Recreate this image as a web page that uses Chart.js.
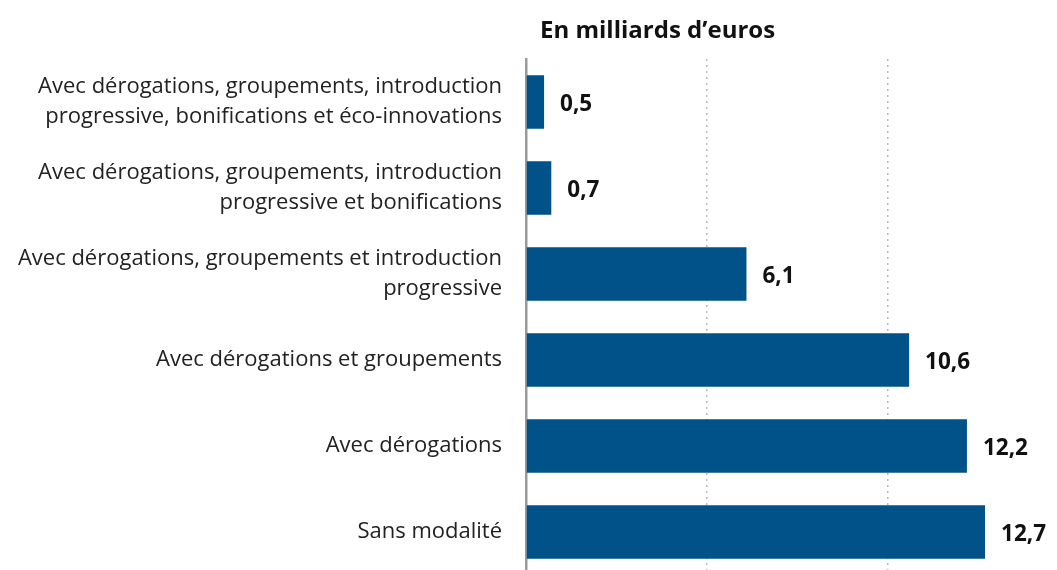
<!DOCTYPE html>
<html lang="fr">
<head>
<meta charset="utf-8">
<script src="https://cdn.jsdelivr.net/npm/chart.js@4"></script>
<style>
    html, body { margin: 0; padding: 0; background: #fff; overflow: hidden; }
    #wrap { position: relative; width: 1057px; height: 576px; }
</style>
</head>
<body>
<div id="wrap"><canvas id="chart"></canvas></div>
<script>
// Données
const titre = 'En milliards d\u2019euros';
const categories = [
    ['Avec dérogations, groupements, introduction', 'progressive, bonifications et éco-innovations'],
    ['Avec dérogations, groupements, introduction', 'progressive et bonifications'],
    ['Avec dérogations, groupements et introduction', 'progressive'],
    'Avec dérogations et groupements',
    'Avec dérogations',
    'Sans modalité'
];
const valeurs = [0.5, 0.7, 6.1, 10.6, 12.2, 12.7];
const gridValues = [5, 10];

const FONT = '"Open Sans", "Noto Sans", sans-serif';

// Étiquettes de valeur au bout des barres + titre
const valueLabels = {
    id: 'valueLabels',
    afterDatasetsDraw(chart) {
        const ctx = chart.ctx;
        const meta = chart.getDatasetMeta(0);
        ctx.save();
        ctx.fillStyle = '#111';
        ctx.font = 'bold 22.5px ' + FONT;
        ctx.textBaseline = 'middle';
        ctx.textAlign = 'left';
        meta.data.forEach(function (bar, i) {
            const txt = valeurs[i].toFixed(1).replace('.', ',');
            ctx.fillText(txt, bar.x + 16, bar.y + 3);
        });
        // titre
        ctx.font = 'bold 24px ' + FONT;
        ctx.textBaseline = 'alphabetic';
        ctx.fillText(titre, 540, 38);
        ctx.restore();
    }
};

const ctx = document.getElementById('chart').getContext('2d');
new Chart(ctx, {
    type: 'bar',
    data: {
        labels: categories,
        datasets: [{
            data: valeurs,
            backgroundColor: '#005288',
            barPercentage: 0.62,
            categoryPercentage: 1
        }]
    },
    options: {
        indexAxis: 'y',
        responsive: true,
        maintainAspectRatio: false,
        animation: false,
        layout: {
            padding: { top: 59, right: 25, bottom: 1, left: 0 }
        },
        plugins: {
            legend: { display: false },
            tooltip: { enabled: false }
        },
        scales: {
            x: {
                min: 0,
                max: 14,
                ticks: { display: false, stepSize: 5 },
                grid: {
                    drawTicks: false,
                    lineWidth: 1.5,
                    color: function (c) {
                        return c.tick && gridValues.includes(c.tick.value) ? '#b8b8b8' : 'rgba(0,0,0,0)';
                    }
                },
                border: { display: false, dash: [2, 4] }
            },
            y: {
                afterFit: function (scale) {
                    scale.width = 526;
                    scale.paddingTop = 0;
                    scale.paddingBottom = 0;
                },
                ticks: {
                    color: '#222',
                    padding: 24,
                    font: { family: FONT, size: 22, lineHeight: 1.36 }
                },
                grid: { display: false, drawTicks: false },
                border: { display: true, color: '#9a9a9a', width: 2.5 }
            }
        }
    },
    plugins: [valueLabels]
});
</script>
</body>
</html>
